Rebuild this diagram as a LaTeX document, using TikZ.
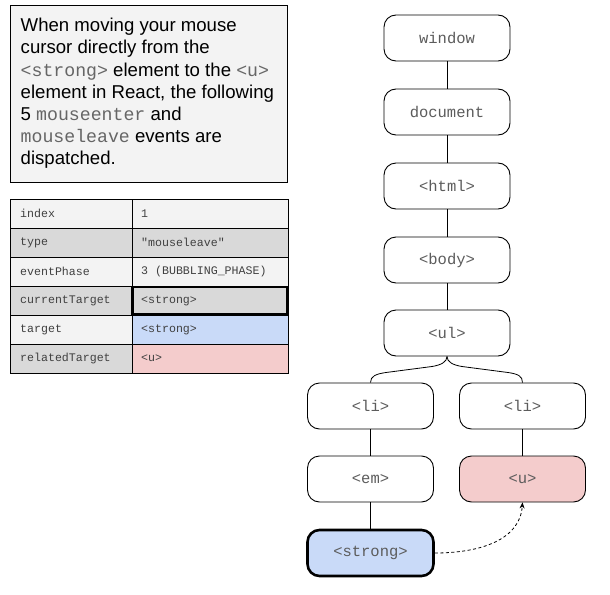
\documentclass[tikz,border=0pt]{standalone}
\usepackage{fontspec}
\setmainfont{Liberation Sans}
\setmonofont{Liberation Mono}
\usetikzlibrary{arrows.meta}
\definecolor{boxgray}{HTML}{F3F3F3}
\definecolor{rowdark}{HTML}{D9D9D9}
\definecolor{tgtblue}{HTML}{C9DAF8}
\definecolor{relpink}{HTML}{F4CCCC}
\definecolor{codegray}{HTML}{5C5C5C}
\definecolor{txtcode}{HTML}{666666}
\begin{document}
\begin{tikzpicture}[x=1pt,y=-1pt,
  elem/.style={draw=black, line width=0.9pt, rounded corners=12pt, minimum width=126pt, minimum height=46pt,
    font=\fontsize{15.5}{18}\selectfont\ttfamily, text=codegray, fill=white, inner sep=0pt},
  link/.style={draw=black, line width=0.8pt},
  txt/.style={anchor=base west, inner sep=0pt, font=\fontsize{18.6}{22}\selectfont},
  cell/.style={anchor=west, inner sep=0pt, font=\fontsize{11.6}{14}\selectfont\ttfamily, text=black!75}
]
\useasboundingbox (0,0) rectangle (610,594);
\fill[white] (0,0) rectangle (610,594);

% text box
\draw[fill=boxgray, line width=0.9pt] (10,5) rectangle (287,182);
\newcommand{\cd}[1]{{\fontsize{18.2}{22}\selectfont\ttfamily\color{txtcode}#1}}
\node[txt] (t1) at (20.5,31.7) {When moving your mouse};
\node[txt] (t2) at (20.5,53.9) {cursor directly from the};
\node[txt] (t3) at (20.5,76.1) {\cd{<strong>} element to the \cd{<u>}};
\node[txt] (t4) at (20.5,98.3) {element in React, the following};
\node[txt] (t5) at (20.5,120.5) {5 \cd{mouseenter} and};
\node[txt] (t6) at (20.5,142.7) {\cd{mouseleave} events are};
\node[txt] (t7) at (20.5,164.9) {dispatched.};

% table
\fill[boxgray] (10,199) rectangle (288,373);
\fill[rowdark] (10,228) rectangle (288,257);
\fill[rowdark] (10,286) rectangle (288,315);
\fill[rowdark] (10,344) rectangle (132,373);
\fill[tgtblue] (132,315) rectangle (288,344);
\fill[relpink] (132,344) rectangle (288,373);
\draw[line width=0.7pt] (10,199) rectangle (288,373);
\foreach \yy in {228,257,286,315,344} \draw[line width=0.7pt] (10,\yy) -- (288,\yy);
\draw[line width=0.7pt] (132,199) -- (132,373);
\draw[line width=2.4pt] (132.5,287) rectangle (287,314.5);
\node[cell] (k1) at (20,213.5) {index};
\node[cell] (v1) at (141,213.5) {1};
\node[cell] (k2) at (20,242.5) {type};
\node[cell] (v2) at (141,242.5) {"mouseleave"};
\node[cell] (k3) at (20,271.5) {eventPhase};
\node[cell] (v3) at (141,271.5) {3 (BUBBLING\_PHASE)};
\node[cell] (k4) at (20,300.5) {currentTarget};
\node[cell] (v4) at (141,300.5) {<strong>};
\node[cell] (k5) at (20,329.5) {target};
\node[cell] (v5) at (141,329.5) {<strong>};
\node[cell] (k6) at (20,358.5) {relatedTarget};
\node[cell] (v6) at (141,358.5) {<u>};

% tree
\node[elem] (window) at (447,38) {window};
\node[elem] (document) at (447,112) {document};
\node[elem] (html) at (447,186) {<html>};
\node[elem] (body) at (447,260) {<body>};
\node[elem] (ul) at (447,333) {<ul>};
\node[elem] (li1) at (370.5,406) {<li>};
\node[elem] (li2) at (522.5,406) {<li>};
\node[elem] (em) at (370.5,479) {<em>};
\node[elem, fill=relpink] (u) at (522.5,479) {<u>};
\node[elem, fill=tgtblue, line width=2.6pt] (strong) at (370.5,553) {<strong>};

\draw[link] (window) -- (document);
\draw[link] (document) -- (html);
\draw[link] (html) -- (body);
\draw[link] (body) -- (ul);
\draw[link] (li1) -- (em);
\draw[link] (li2) -- (u);
\draw[link] (em) -- (strong);
\draw[link] (ul.south) .. controls (447,362) and (441,365) .. (432,366.5)
  -- (386,372.5) .. controls (376,374) and (370.5,376) .. (li1.north);
\draw[link] (ul.south) .. controls (447,362) and (453,365) .. (462,366.5)
  -- (508,372.5) .. controls (518,374) and (522.5,376) .. (li2.north);
\draw[line width=0.8pt, dash pattern=on 3pt off 2.5pt, -{Stealth[length=6pt,width=5pt]}] (strong.east) .. controls (480,553) and (520,540) .. (u.south);
\end{tikzpicture}
\end{document}
